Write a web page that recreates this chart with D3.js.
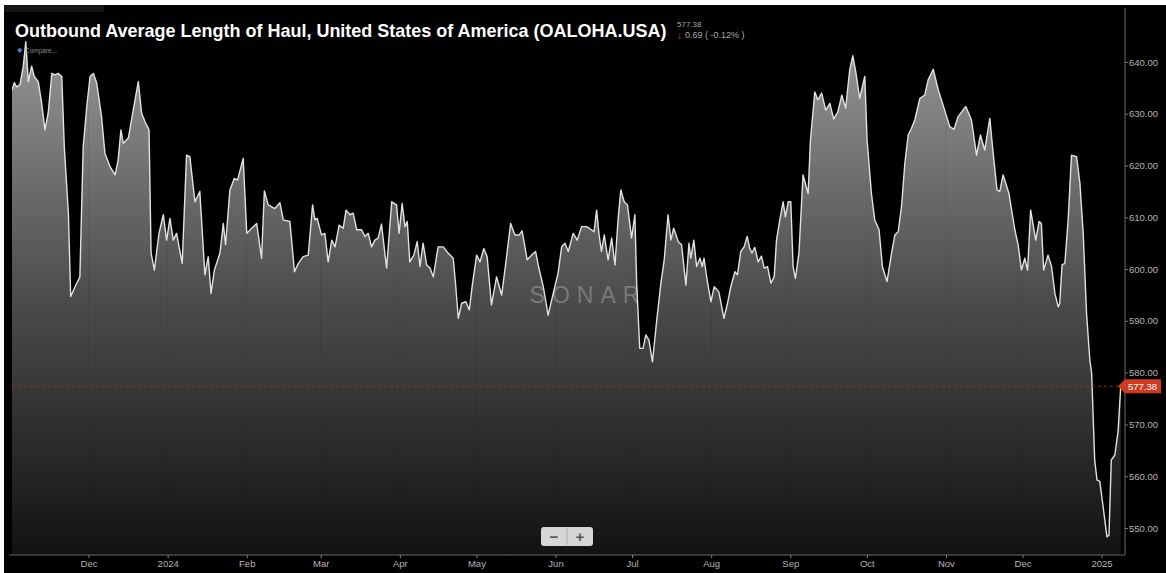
<!DOCTYPE html>
<html>
<head>
<meta charset="utf-8">
<script src="https://cdn.jsdelivr.net/npm/d3@7"></script>
<style>
  html, body { margin: 0; padding: 0; background: #ffffff; }
  svg { display: block; }
  text { font-family: "Liberation Sans", Arial, Helvetica, sans-serif; }
</style>
</head>
<body>
<svg id="chart" width="1166" height="573"></svg>
<script>
// ---------------- DATA ----------------
const titleText = "Outbound Average Length of Haul, United States of America (OALOHA.USA)";
const lastValueText = "577.38";
const changeText = "0.69 ( -0.12% )";
const seriesStart = "2023-11-01";
// days since seriesStart
const dayOffsets = [
  0, 0.9, 1.8, 3.1, 4.4, 5.4, 6.4, 7.7, 8.7, 10.3, 11.6, 12.9, 14.2, 15.6, 16.8, 18.1, 19.5, 20.5, 22.1, 23.0,
  24.7, 26.6, 27.9, 29.3, 30.6, 31.9, 33.2, 35.1, 36.4, 38.4, 40.4, 41.6, 42.7, 43.6, 45.6, 47.5, 49.5, 50.8, 52.1, 53.7,
  54.5, 55.8, 57.6, 59.3, 60.6, 61.9, 63.2, 64.5, 66.7, 68.4, 69.7, 71.7, 73.6, 75.6, 76.9, 78.0, 79.3, 81.5, 82.8, 83.7,
  85.4, 87.1, 88.4, 90.6, 92.0, 93.9, 95.9, 97.8, 98.9, 100.4, 103.0, 105.0, 106.3, 108.9, 110.7,
  112.2, 114.1, 116.1, 117.8, 118.7, 119.6, 121.3, 122.6, 123.9, 125.3, 126.6, 128.2, 129.8, 130.9, 132.4, 133.7, 135.1, 137.0,
  138.3, 139.6, 140.9, 142.2, 143.5, 144.8, 146.8, 148.8, 150.7, 151.7, 152.9, 154.0, 154.9, 155.9, 157.5, 158.8, 159.9, 161.1,
  162.5, 163.8, 165.1, 167.0, 169.0, 170.9, 172.9, 173.8, 174.9, 176.2, 177.9, 179.2, 180.5, 182.1, 183.4, 184.9, 186.2, 187.9,
  189.9, 191.9, 193.5, 195.4, 197.1, 198.8, 199.9, 201.9, 203.6, 205.2, 206.2, 208.2, 210.1, 212.1, 214.0, 215.4, 216.7, 218.0,
  219.9, 221.5,
  223.2, 225.2, 227.1, 228.1, 229.1, 230.0, 231.0, 232.1, 233.6, 235.0, 236.3, 237.5, 238.6, 239.9, 241.2, 242.8, 244.1, 244.8,
  246.0, 247.3, 248.4, 249.6, 251.0, 252.6, 254.3, 255.6, 257.1, 258.2, 259.3, 261.1, 262.4, 264.1, 265.3, 266.0, 267.2, 268.3,
  269.6, 270.5, 271.2, 272.4, 273.9, 275.2, 277.0, 279.0, 280.4, 281.7, 283.3, 284.3, 285.6, 286.9, 288.1, 289.1, 290.0, 291.1,
  292.4, 293.7, 294.8, 296.1, 297.4, 298.7, 299.6, 300.9, 302.2, 303.1, 304.2, 305.2, 306.1, 307.0, 308.4, 310.0, 312.0, 312.9,
  314.6, 315.8, 317.3, 318.9, 320.5, 322.0, 323.6, 325.2, 326.7, 328.3, 329.5, 330.7, 332.2,
  334.2, 335.1, 336.8, 338.1, 339.8, 341.1, 342.9, 344.7, 346.0, 347.3, 348.6, 349.9, 351.2, 352.5, 353.8, 355.8, 357.7, 359.0,
  361.0, 363.0, 365.5, 367.5, 369.2, 370.7, 373.8, 376.0, 378.0, 379.5, 381.2, 383.2, 384.5, 386.0, 387.1, 388.4, 390.7, 393.0,
  394.3, 395.6, 396.9, 398.0, 399.2, 400.1, 401.2, 402.5, 403.4, 404.3, 406.0, 407.4, 408.7, 410.0, 410.6, 411.5, 412.6, 413.9,
  415.2, 417.2, 418.5, 419.8, 421.1, 422.4, 423.1, 424.3, 425.2, 426.3, 427.6, 429.1, 429.9, 430.8, 432.2, 433.5, 434.5
];
const values = [
  634.6, 636.0, 635.2, 635.6, 639.1, 643.9, 636.2, 639.2, 637.2, 636.2, 632.1, 626.9, 630.2, 637.8, 637.5, 637.8, 637.2, 623.6, 610.8, 594.7,
  596.6, 598.5, 623.6, 631.4, 637.2, 637.8, 635.9, 629.4, 622.4, 619.8, 618.2, 621.1, 626.9, 624.3, 625.3, 630.7, 636.2, 630.1, 628.5, 626.9,
  603.1, 599.8, 606.9, 610.5, 605.6, 609.8, 605.6, 606.9, 601.1, 622.0, 621.7, 613.0, 615.0, 598.9, 602.4, 595.3, 599.8, 603.1, 608.8, 604.7,
  615.3, 617.5, 617.2, 621.4, 606.9, 607.9, 608.8, 602.1, 615.1, 612.4, 611.7, 612.8, 609.5, 609.2, 599.5,
  601.1, 602.4, 602.7, 612.4, 609.5, 609.8, 606.6, 606.9, 601.4, 605.6, 604.3, 608.5, 607.9, 611.4, 610.5, 610.8, 607.6, 607.6,
  606.3, 606.9, 604.3, 605.6, 606.0, 608.7, 600.2, 613.0, 612.4, 606.9, 612.7, 608.2, 609.2, 601.4, 602.7, 605.3, 600.5, 605.0,
  600.8, 600.2, 598.5, 604.3, 604.3, 603.1, 602.1, 597.3, 590.5, 593.4, 593.7, 592.1, 597.3, 602.7, 601.4, 604.0, 602.4, 593.1,
  598.5, 595.0, 601.1, 608.8, 606.6, 606.6, 607.4, 601.8, 602.7, 603.4, 600.8, 596.6, 591.1, 595.3, 599.2, 604.3, 605.0, 603.4,
  606.9, 605.6,
  608.2, 608.2, 607.6, 607.2, 611.4, 606.9, 603.4, 606.6, 601.8, 606.0, 600.8, 609.5, 615.3, 613.0, 612.4, 606.0, 610.5, 597.3,
  584.7, 584.7, 587.3, 586.3, 582.1, 589.8, 597.3, 601.8, 610.5, 605.6, 607.9, 605.3, 604.7, 596.9, 605.0, 602.1, 605.6, 600.5,
  602.1, 600.5, 602.1, 597.9, 593.7, 596.6, 595.6, 590.5, 593.4, 596.6, 599.5, 598.9, 603.4, 604.3, 606.3, 604.0, 603.1, 604.2,
  601.4, 602.5, 600.2, 600.5, 597.3, 598.5, 605.6, 609.5, 613.0, 610.1, 613.0, 613.0, 600.5, 598.2, 603.1, 618.2, 614.6, 624.9,
  634.2, 632.7, 634.0, 630.7, 632.0, 629.0, 630.3, 633.6, 631.1, 638.5, 641.2, 638.0, 633.0,
  637.2, 624.9, 614.6, 609.5, 607.6, 600.5, 597.6, 603.1, 606.6, 607.2, 612.1, 620.4, 625.9, 627.2, 628.8, 633.0, 633.6, 636.5,
  638.6, 634.6, 630.7, 627.5, 627.0, 629.4, 631.4, 628.8, 622.0, 625.9, 623.0, 629.1, 622.4, 615.3, 615.0, 618.2, 614.6, 607.6,
  604.7, 599.8, 602.1, 599.8, 611.4, 608.8, 605.6, 609.2, 608.8, 599.8, 602.7, 600.5, 595.3, 592.7, 593.4, 600.8, 601.1, 609.5,
  622.0, 621.7, 616.6, 606.9, 591.5, 582.4, 579.9, 563.1, 559.3, 559.0, 554.1, 548.3, 548.6, 563.1, 564.1, 568.9, 577.38
];
const yTicks = [550, 560, 570, 580, 590, 600, 610, 620, 630, 640];
const xTickDates = ["2023-12-01","2024-01-01","2024-02-01","2024-03-01","2024-04-01","2024-05-01","2024-06-01",
                    "2024-07-01","2024-08-01","2024-09-01","2024-10-01","2024-11-01","2024-12-01","2025-01-01"];
const xTickLabels = ["Dec","2024","Feb","Mar","Apr","May","Jun","Jul","Aug","Sep","Oct","Nov","Dec","2025"];
const lastValue = 577.38;

// ---------------- CHART ----------------
const svg = d3.select("#chart");
const W = 1166, H = 573;
const parse = d3.utcParse("%Y-%m-%d");
const start = parse(seriesStart);
const DAY = 864e5;
const data = dayOffsets.map((d, i) => ({ date: new Date(start.getTime() + d * DAY), value: values[i] }));

const plotLeft = 12, plotRight = 1122, axisX = 1125, axisY = 555;
const x = d3.scaleUtc().domain([start, new Date(start.getTime() + 435 * DAY)]).range([plotLeft, plotRight]);
const y = d3.scaleLinear().domain([550, 640]).range([528, 62]);

// background
svg.append("rect").attr("x", 0).attr("y", 0).attr("width", W).attr("height", H).attr("fill", "#ffffff");
svg.append("rect").attr("x", 4).attr("y", 5).attr("width", W - 4).attr("height", H - 5).attr("fill", "#000000");
svg.append("rect").attr("x", 4).attr("y", 5).attr("width", 100).attr("height", 7).attr("fill", "#141414");

const defs = svg.append("defs");
const grad = defs.append("linearGradient").attr("id", "areaGrad")
  .attr("gradientUnits", "userSpaceOnUse").attr("x1", 0).attr("x2", 0).attr("y1", 40).attr("y2", axisY);
grad.append("stop").attr("offset", "0%").attr("stop-color", "#969696");
grad.append("stop").attr("offset", "50%").attr("stop-color", "#4c4c4c");
grad.append("stop").attr("offset", "100%").attr("stop-color", "#121212");

defs.append("clipPath").attr("id", "plotClip").append("rect")
  .attr("x", plotLeft).attr("y", 30).attr("width", plotRight - plotLeft).attr("height", axisY - 30);

const g = svg.append("g").attr("clip-path", "url(#plotClip)");

g.append("path").datum(data)
  .attr("fill", "url(#areaGrad)")
  .attr("d", d3.area().x(d => x(d.date)).y0(axisY).y1(d => y(d.value)));

// very faint month gridlines
g.selectAll("line.grid").data(xTickDates.map(parse)).enter().append("line")
  .attr("x1", d => x(d)).attr("x2", d => x(d)).attr("y1", 30).attr("y2", axisY)
  .attr("stroke", "rgba(0,0,0,0.07)").attr("stroke-width", 1);

// watermark
svg.append("text").attr("x", 588).attr("y", 303).attr("text-anchor", "middle")
  .attr("font-size", 23).attr("letter-spacing", 7)
  .attr("fill", "rgba(255,255,255,0.26)").text("SONAR");

g.append("path").datum(data)
  .attr("fill", "none").attr("stroke", "#e2e2e2").attr("stroke-width", 1.4).attr("stroke-linejoin", "round")
  .attr("d", d3.line().x(d => x(d.date)).y(d => y(d.value)));

// last value dashed line
svg.append("line").attr("x1", plotLeft).attr("x2", plotRight).attr("y1", y(lastValue)).attr("y2", y(lastValue))
  .attr("stroke", "#a3302a").attr("stroke-width", 1).attr("stroke-dasharray", "3,3").attr("opacity", 0.85);

// axes
const yAxis = d3.axisRight(y).tickValues(yTicks).tickFormat(d3.format(".2f")).tickSize(3).tickPadding(1);
const yg = svg.append("g").attr("transform", `translate(${axisX},0)`).call(yAxis);
yg.select(".domain").remove();
yg.selectAll(".tick line").attr("stroke", "#777");
yg.selectAll(".tick text").attr("fill", "#b5b5b5").attr("font-size", 9.5)
  .attr("font-family", "'Liberation Sans', Arial, sans-serif");
svg.append("line").attr("x1", axisX).attr("x2", axisX).attr("y1", 8).attr("y2", axisY)
  .attr("stroke", "#6a6a6a").attr("stroke-width", 1);

const xAxis = d3.axisBottom(x).tickValues(xTickDates.map(parse))
  .tickFormat((d, i) => xTickLabels[i]).tickSize(3).tickPadding(2);
const xg = svg.append("g").attr("transform", `translate(0,${axisY})`).call(xAxis);
xg.select(".domain").remove();
xg.selectAll(".tick line").attr("stroke", "#888");
xg.selectAll(".tick text").attr("fill", "#b5b5b5").attr("font-size", 9.5)
  .attr("font-family", "'Liberation Sans', Arial, sans-serif");
svg.append("line").attr("x1", 9).attr("x2", axisX).attr("y1", axisY).attr("y2", axisY)
  .attr("stroke", "#6a6a6a").attr("stroke-width", 1);

// last value tag
const ty = y(lastValue);
svg.append("path")
  .attr("d", `M${plotRight - 4},${ty} L${plotRight + 3},${ty - 7} L1161,${ty - 7} L1161,${ty + 7} L${plotRight + 3},${ty + 7} Z`)
  .attr("fill", "#d13a1e");
svg.append("text").attr("x", 1128).attr("y", ty + 3.5).attr("font-size", 9.5).attr("fill", "#ffffff")
  .text(lastValueText);

// title
const title = svg.append("text").attr("x", 15).attr("y", 37).attr("font-size", 18).attr("font-weight", "bold")
  .attr("fill", "#ffffff").text(titleText);
const tw = title.node().getComputedTextLength();
title.attr("font-size", 18 * 652 / tw);

svg.append("text").attr("x", 677).attr("y", 27).attr("font-size", 8).attr("fill", "#aaaaaa").text(lastValueText);
svg.append("text").attr("x", 677).attr("y", 38.5).attr("font-size", 10).attr("font-weight", "bold")
  .attr("fill", "#e04a3a").text("↓");
svg.append("text").attr("x", 685).attr("y", 38).attr("font-size", 9).attr("fill", "#aaaaaa").text(changeText);

// compare
svg.append("rect").attr("x", 18).attr("y", 48.5).attr("width", 3.5).attr("height", 3.5)
  .attr("transform", "rotate(45 19.75 50.25)").attr("fill", "#3f8ee8");
svg.append("text").attr("x", 25).attr("y", 53).attr("font-size", 6.5).attr("fill", "#8a8a8a").text("Compare...");

// zoom buttons
svg.append("rect").attr("x", 541).attr("y", 527).attr("width", 52).attr("height", 19).attr("rx", 3)
  .attr("fill", "#d6d6d6");
svg.append("line").attr("x1", 567).attr("x2", 567).attr("y1", 528).attr("y2", 545).attr("stroke", "#b0b0b0");
svg.append("text").attr("x", 554).attr("y", 541.5).attr("text-anchor", "middle").attr("font-size", 15)
  .attr("font-weight", "bold").attr("fill", "#555").text("−");
svg.append("text").attr("x", 580).attr("y", 542).attr("text-anchor", "middle").attr("font-size", 15)
  .attr("font-weight", "bold").attr("fill", "#555").text("+");
</script>
</body>
</html>
